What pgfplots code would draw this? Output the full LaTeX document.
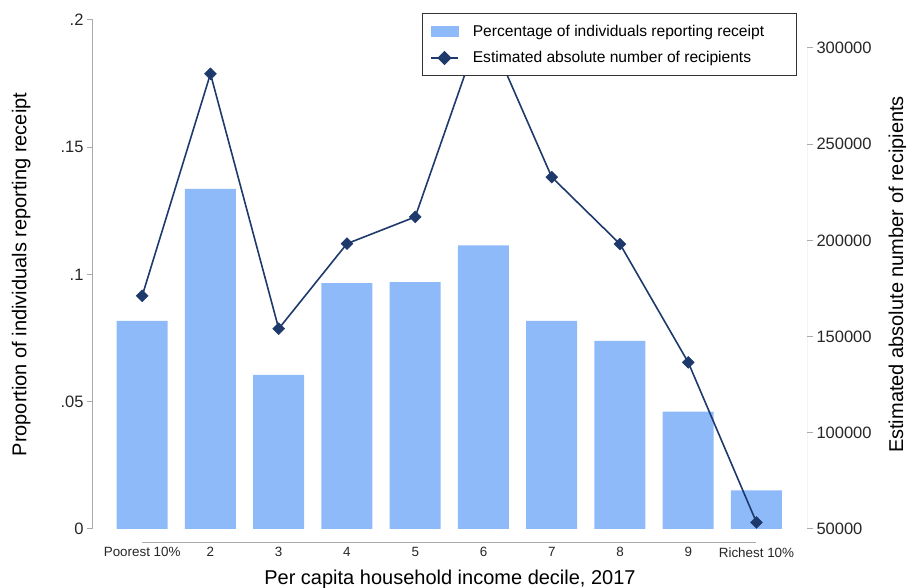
\documentclass[border=0pt]{standalone}
\usepackage{fontspec}
\setmainfont{Liberation Sans}
\usepackage{pgfplots}
\pgfplotsset{compat=1.18}
\definecolor{barblue}{RGB}{143,186,250}
\definecolor{linenavy}{RGB}{30,58,108}
\definecolor{axgray}{RGB}{170,170,170}

\pgfplotstableread{
x share
1 0.0818
2 0.1336
3 0.0606
4 0.0966
5 0.0970
6 0.1114
7 0.0818
8 0.0739
9 0.0461
10 0.0152
}\bartable

\pgfplotstableread{
x num
1 171200
2 286600
3 154100
4 198300
5 212200
6 314000
7 232900
8 198100
9 136600
10 53400
}\linetable

\begin{document}
\begin{tikzpicture}
\useasboundingbox (0,0) rectangle (906pt,588pt);
\begin{axis}[
  at={(93pt,59pt)}, anchor=south west,
  scale only axis, width=714pt, height=509pt,
  xmin=0.279, xmax=10.74, ymin=0, ymax=0.2,
  axis line style={draw=none},
  clip=false,
  ytick={0,0.05,0.1,0.15,0.2},
  yticklabels={0,.05,.1,.15,.2},
  ytick pos=left,
  tick align=outside,
  major tick length=6pt,
  ytick style={axgray, line width=1pt},
  xtick={1,2,3,4,5,6,7,8,9,10},
  xticklabels={Poorest 10\%,2,3,4,5,6,7,8,9,Richest 10\%},
  xtick style={draw=none},
  xtick pos=bottom,
  /pgf/number format/assume math mode=true,
  yticklabel style={font=\fontsize{16.5}{18}\selectfont, text=black!85},
  xticklabel style={font=\fontsize{13.4}{15}\selectfont, text=black!85, yshift=-9pt},
  xlabel={Per capita household income decile, 2017},
  ylabel={Proportion of individuals reporting receipt},
  every axis x label/.style={at={(axis description cs:0.5,-0.098)}, anchor=center, font=\fontsize{20}{22}\selectfont},
  every axis y label/.style={at={(axis description cs:-0.1006,0.5)}, anchor=center, rotate=90, font=\fontsize{20}{22}\selectfont},
]
\addplot[ybar, bar width=51pt, fill=barblue, draw=none] table[x=x, y=share] {\bartable};
\draw[axgray, line width=1pt] (rel axis cs:0,0) -- (rel axis cs:0,1);
\draw[axgray, line width=1pt] ([yshift=-14pt]axis cs:1,0) -- ([yshift=-14pt]axis cs:10,0);
\end{axis}

\begin{axis}[
  at={(93pt,59pt)}, anchor=south west,
  scale only axis, width=714pt, height=509pt,
  xmin=0.279, xmax=10.74, ymin=50000, ymax=314553,
  axis line style={draw=none},
  xtick=\empty,
  ytick={50000,100000,150000,200000,250000,300000},
  ytick pos=right, yticklabel pos=right,
  tick align=outside,
  major tick length=6pt,
  ytick style={axgray, line width=1pt},
  scaled y ticks=false,
  /pgf/number format/assume math mode=true,
  yticklabel style={/pgf/number format/.cd, fixed, 1000 sep={}, /tikz/.cd, font=\fontsize{16.5}{18}\selectfont, text=black!85},
  ylabel={Estimated absolute number of recipients},
  every axis y label/.style={at={(axis description cs:1.1275,0.5)}, anchor=center, rotate=90, font=\fontsize{20}{22}\selectfont},
  legend style={at={(axis description cs:0.4604,1.0132)}, anchor=north west,
    draw=black!80, line width=1pt, fill=white,
    font=\fontsize{15.6}{18}\selectfont,
    inner xsep=8pt, inner ysep=9pt, row sep=10pt,
    /tikz/every odd column/.append style={column sep=12pt}},
  legend cell align=left,
]
\draw[axgray, line width=1pt] (axis cs:10.74,50000) -- (axis cs:10.74,300000);
\addlegendimage{legend image code/.code={\fill[barblue] (0pt,-5pt) rectangle (27pt,5pt);}}
\addlegendentry{Percentage of individuals reporting receipt\hspace*{22pt}}
\addplot[linenavy, line width=1.6pt, mark=square*, mark size=4.2pt, mark options={rotate=45, fill=linenavy, draw=linenavy, line width=0.5pt},
  legend image code/.code={\draw[linenavy, line width=1.6pt] (0pt,0pt) -- (27pt,0pt); \fill[linenavy, rotate around={45:(13.5pt,0pt)}] (9.3pt,-4.2pt) rectangle (17.7pt,4.2pt);}]
  table[x=x, y=num] {\linetable};
\addlegendentry{Estimated absolute number of recipients}
\end{axis}
\end{tikzpicture}
\end{document}
